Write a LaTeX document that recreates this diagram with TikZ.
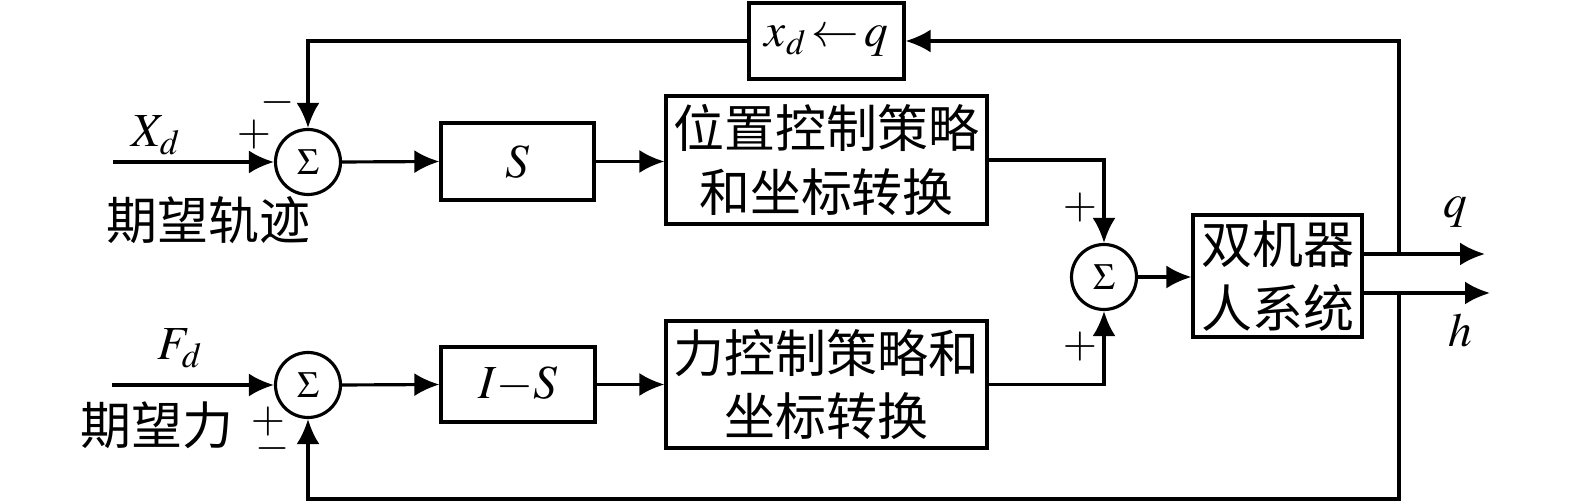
\documentclass[tikz,border=0pt]{standalone}
\usepackage{mathptmx}
\usepackage{fontspec}
\setmainfont{Liberation Serif}
\newfontfamily\cjk{Noto Sans CJK SC}
\usetikzlibrary{arrows.meta}

\begin{document}
\begin{tikzpicture}[
    blk/.style={draw, line width=1.8pt, inner sep=0pt},
    sum/.style={draw, circle, line width=1.8pt, minimum size=1.3cm, inner sep=0pt, font=\fontsize{21pt}{21pt}\selectfont},
    sig/.style={line width=1.8pt, -{Latex[length=0.5cm,width=0.46cm]}},
    lbl/.style={font=\fontsize{27pt}{27pt}\selectfont},
    pm/.style={font=\fontsize{25pt}{25pt}\selectfont, inner sep=0pt},
    cn/.style={font=\cjk\fontsize{29pt}{36pt}\selectfont, align=center, inner sep=0pt},
]
    \useasboundingbox (0,0) rectangle (31.5,10.08);

    % Summing junctions
    \node[sum] (s1) at (6.16,6.84) {$\Sigma$};
    \node[sum] (s2) at (6.16,2.38) {$\Sigma$};
    \node[sum] (s3) at (22.08,4.54) {$\Sigma$};

    % Blocks
    \node[blk, lbl, minimum width=3.06cm, minimum height=1.54cm] (S) at (10.35,6.85) {$S$};
    \node[blk, lbl, minimum width=3.08cm, minimum height=1.5cm] (IS) at (10.36,2.39) {$I{-}S$};
    \node[blk, cn, minimum width=6.42cm, minimum height=2.56cm] (pos) at (16.53,6.88) {位置控制策略\\和坐标转换};
    \node[blk, cn, minimum width=6.42cm, minimum height=2.54cm] (force) at (16.53,2.39) {力控制策略和\\坐标转换};
    \node[blk, lbl, minimum width=3.1cm, minimum height=1.52cm] (map) at (16.53,9.26) {$x_d\!\leftarrow\! q$};
    \node[blk, cn, minimum width=3.38cm, minimum height=2.44cm] (plant) at (25.55,4.56) {双机器\\人系统};

    % Free ends
    \coordinate (xin) at (2.26,6.84);
    \coordinate (fin) at (2.24,2.38);
    \coordinate (qj) at (27.98,5.0);
    \coordinate (hj) at (27.98,4.22);
    \coordinate (qtip) at (29.7,5.0);
    \coordinate (htip) at (29.8,4.22);
    \coordinate (bot) at (27.98,0.1);

    % Forward path
    \draw[sig] (xin) -- (s1.west);
    \draw[sig] (fin) -- (s2.west);
    \draw[sig] (s1.east) -- (S.west);
    \draw[sig] (s2.east) -- (IS.west);
    \draw[sig] (S.east) -- (pos.west |- S.east);
    \draw[sig] (IS.east) -- (force.west |- IS.east);
    \draw[sig] (pos.east) -| (s3.north);
    \draw[sig] (force.east) -| (s3.south);
    \draw[sig] (s3.east) -- (s3.east -| plant.west);
    \draw[sig] (plant.east |- qj) -- (qtip);
    \draw[sig] (plant.east |- hj) -- (htip);

    % Feedback
    \draw[sig] (qj) |- (map.east);
    \draw[sig] (map.west) -| (s1.north);
    \draw[sig] (hj) -- (bot) -| (s2.south);

    % Labels
    \node[lbl] (xd) at (3.12,7.38) {$X_d$};
    \node[cn] (xdtxt) at (4.17,5.68) {期望轨迹};
    \node[lbl] (fd) at (3.6,3.12) {$F_d$};
    \node[cn] (fdtxt) at (3.14,1.58) {期望力};
    \node[lbl] (ql) at (29.1,5.84) {$q$};
    \node[lbl] (hl) at (29.2,3.48) {$h$};

    % Signs
    \node[pm] (p1) at (5.08,7.38) {$+$};
    \node[pm] (m1) at (5.56,8.02) {$-$};
    \node[pm] (p2) at (5.36,1.64) {$+$};
    \node[pm] (m2) at (5.46,1.1) {$-$};
    \node[pm] (p3) at (21.6,5.92) {$+$};
    \node[pm] (p4) at (21.6,3.14) {$+$};

\end{tikzpicture}
\end{document}
